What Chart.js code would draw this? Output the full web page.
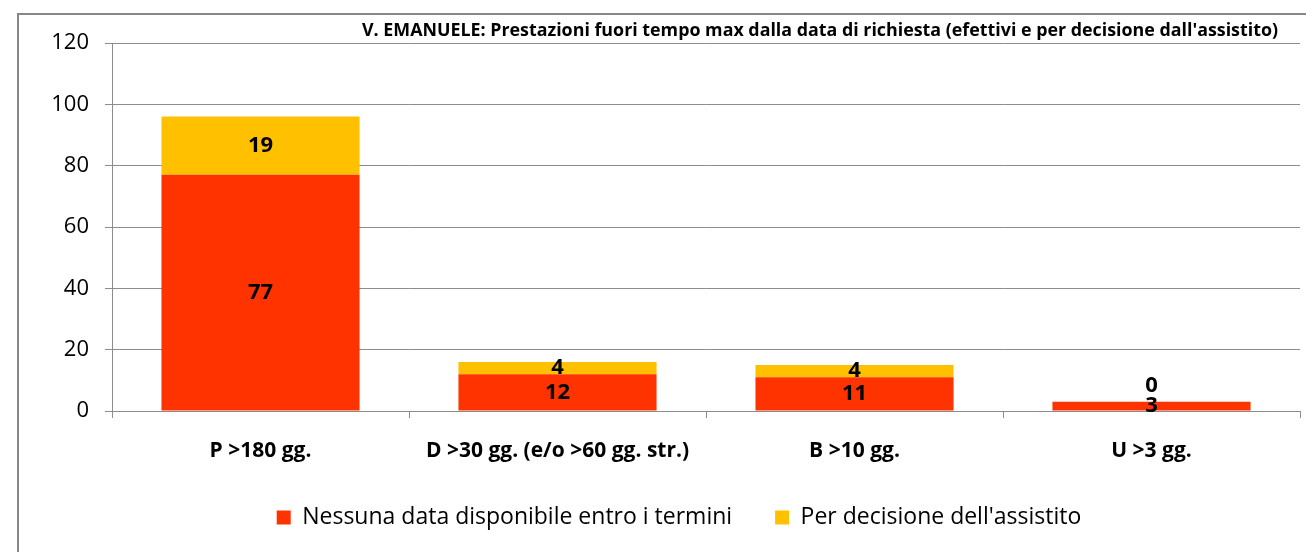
<!DOCTYPE html>
<html>
<head>
<meta charset="utf-8">
<script src="https://cdn.jsdelivr.net/npm/chart.js@4/dist/chart.umd.min.js"></script>
<style>
  html, body { margin: 0; padding: 0; background: #fff; overflow: hidden; }
  #wrap { position: relative; width: 1306px; height: 552px; }
  #frame { position: absolute; left: 17px; top: 13px; width: 1400px; height: 700px; border: 2px solid #878787; box-sizing: border-box; }
  canvas { position: absolute; left: 0; top: 0; }
</style>
</head>
<body>
<div id="wrap">
  <div id="frame"></div>
  <canvas id="chart" width="1306" height="552"></canvas>
</div>
<script>
// chart data
const TITLE = "V. EMANUELE: Prestazioni fuori tempo max dalla data di richiesta (efettivi e per decisione dall'assistito)";
const categories = ['P >180 gg.', 'D >30 gg. (e/o >60 gg. str.)', 'B >10 gg.', 'U >3 gg.'];
const seriesNames = ['Nessuna data disponibile entro i termini', "Per decisione dell'assistito"];
const nessunaData = [77, 12, 11, 3];
const perDecisione = [19, 4, 4, 0];
const yTicks = [0, 20, 40, 60, 80, 100, 120];

const RED = '#FF3300';
const YELLOW = '#FFC000';
const GRID = '#8c8c8c';
const FONT = '"Open Sans", Lato, sans-serif';
const LEGEND_DX = 29; // original legend is centred a bit right of the canvas middle

// value labels centered in each segment (zero values sit just above the bar)
const valueLabels = {
    id: 'valueLabels',
    afterDatasetsDraw(chart) {
        const ctx = chart.ctx;
        ctx.save();
        ctx.font = 'bold 22px ' + FONT;
        ctx.fillStyle = '#000';
        ctx.textAlign = 'center';
        ctx.textBaseline = 'middle';
        chart.data.datasets.forEach((ds, i) => {
            const meta = chart.getDatasetMeta(i);
            meta.data.forEach((bar, j) => {
                const v = ds.data[j];
                let y = (bar.y + bar.base) / 2;
                if (v === 0) y = bar.y - 16;
                ctx.fillText(String(v), bar.x, y);
            });
        });
        ctx.restore();
    }
};

// title drawn inside the plot, right aligned like the original
const topTitle = {
    id: 'topTitle',
    afterDraw(chart) {
        const ctx = chart.ctx;
        ctx.save();
        ctx.font = 'bold 18px ' + FONT;
        ctx.fillStyle = '#000';
        ctx.textAlign = 'right';
        ctx.textBaseline = 'middle';
        ctx.fillText(TITLE, 1278, 31, 916);
        ctx.restore();
    }
};

// nudge the built-in legend sideways
const legendShift = {
    id: 'legendShift',
    beforeDraw(chart) {
        const lg = chart.legend;
        if (!lg || lg._shifted) return;
        const orig = lg.draw;
        lg.draw = function (area) {
            const c = this.ctx;
            c.save();
            c.translate(LEGEND_DX, 0);
            orig.call(this, area);
            c.restore();
        };
        lg._shifted = true;
    }
};

new Chart(document.getElementById('chart'), {
    type: 'bar',
    data: {
        labels: categories,
        datasets: [
            { label: seriesNames[0], data: nessunaData, backgroundColor: RED, borderWidth: 0 },
            { label: seriesNames[1], data: perDecisione, backgroundColor: YELLOW, borderWidth: 0 }
        ]
    },
    options: {
        responsive: false,
        animation: false,
        layout: { padding: { left: 0, right: 6, top: 43, bottom: 13 } },
        datasets: { bar: { categoryPercentage: 0.667, barPercentage: 1.0 } },
        plugins: {
            legend: {
                position: 'bottom',
                labels: {
                    color: '#000',
                    font: { family: FONT, size: 23 },
                    boxWidth: 14,
                    boxHeight: 14,
                    padding: 43
                }
            },
            tooltip: { enabled: false }
        },
        scales: {
            x: {
                stacked: true,
                // fixed band height so the legend sits where it does in the original
                afterFit(scale) { scale.height = 52; },
                border: { color: GRID, width: 1 },
                grid: { display: true, drawOnChartArea: false, tickLength: 7, color: GRID, offset: true },
                ticks: { color: '#000', font: { family: FONT, size: 21, weight: 'bold' }, padding: 20 }
            },
            y: {
                stacked: true,
                min: 0,
                max: 120,
                afterFit(scale) { scale.width = 112; },
                afterBuildTicks(scale) { scale.ticks = yTicks.map(v => ({ value: v })); },
                border: { color: GRID, width: 1 },
                grid: { color: GRID, tickLength: 7 },
                ticks: { color: '#000', font: { family: FONT, size: 22 }, padding: 16 }
            }
        }
    },
    plugins: [valueLabels, topTitle, legendShift]
});
</script>
</body>
</html>
